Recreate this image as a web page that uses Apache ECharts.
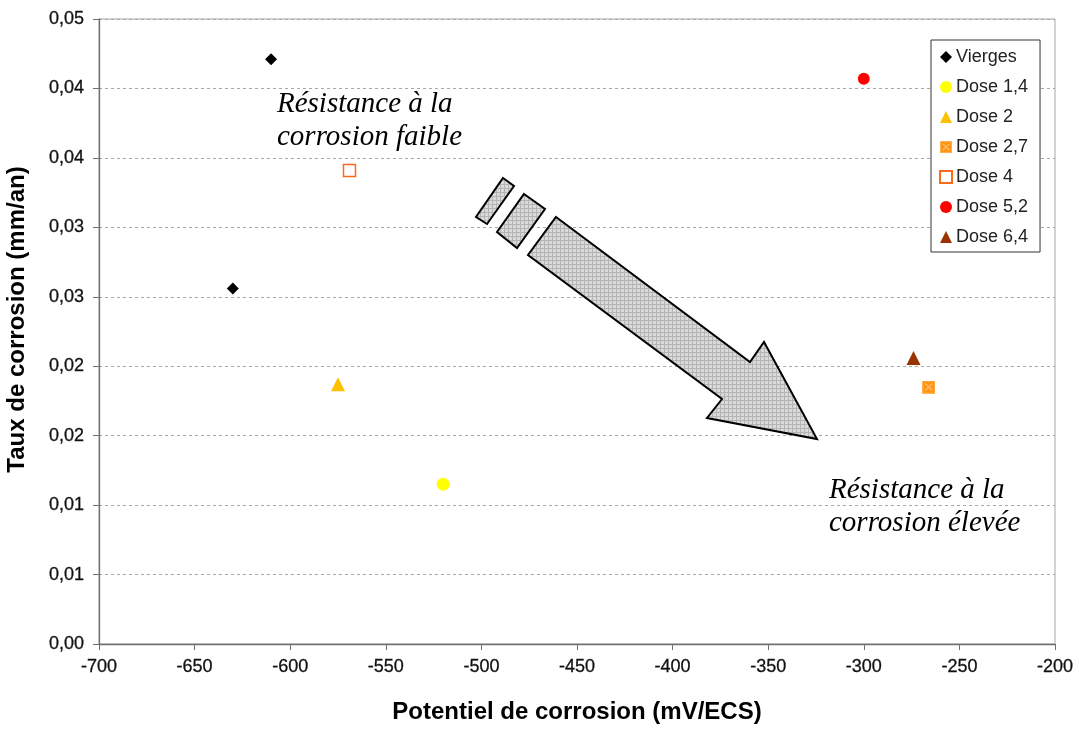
<!DOCTYPE html>
<html>
<head>
<meta charset="utf-8">
<script src="https://cdn.jsdelivr.net/npm/echarts@6/dist/echarts.min.js"></script>
<style>
  html, body { margin: 0; padding: 0; background: #fff; }
  #chart { width: 1079px; height: 729px; }
</style>
</head>
<body>
<div id="chart"></div>
<script>
// values
const seriesNames = ['Vierges', 'Dose 1,4', 'Dose 2', 'Dose 2,7', 'Dose 4', 'Dose 5,2', 'Dose 6,4'];
const vierges = [[-610, 0.0421], [-630, 0.0256]];
const dose14 = [[-520, 0.0115]];
const dose2 = [[-575, 0.0187]];
const dose27 = [[-266, 0.0185]];
const dose4 = [[-569, 0.0341]];
const dose52 = [[-300, 0.0407]];
const dose64 = [[-274, 0.0206]];
const yTickLabels = ['0,00', '0,01', '0,01', '0,02', '0,02', '0,03', '0,03', '0,04', '0,04', '0,05'];

const FONT = '"Liberation Sans", Arial, sans-serif';

// crosshatch fill for the arrow
function hatchPattern() {
  const c = document.createElement('canvas');
  c.width = 4; c.height = 4;
  const g = c.getContext('2d');
  g.fillStyle = '#dadada';
  g.fillRect(0, 0, 4, 4);
  g.fillStyle = '#b4b4b4';
  g.fillRect(0, 0, 4, 1);
  g.fillRect(0, 0, 1, 4);
  return c;
}

// square with a cross, like the Excel marker
function crossSquare() {
  const c = document.createElement('canvas');
  c.width = 13; c.height = 13;
  const g = c.getContext('2d');
  g.fillStyle = '#ff9410';
  g.fillRect(0, 0, 13, 13);
  g.strokeStyle = '#ffb050';
  g.lineWidth = 1;
  g.strokeRect(0.5, 0.5, 12, 12);
  g.strokeStyle = '#ffe2bc';
  g.beginPath();
  g.moveTo(3, 3); g.lineTo(10, 10);
  g.moveTo(10, 3); g.lineTo(3, 10);
  g.stroke();
  return 'image://' + c.toDataURL();
}

const hatch = { image: hatchPattern(), repeat: 'repeat' };

function scatter(name, data, symbol, size, itemStyle) {
  return {
    name: name, type: 'scatter', data: data, symbol: symbol, symbolSize: size,
    itemStyle: Object.assign({ opacity: 1 }, itemStyle)
  };
}

function annotation(x, y, lines) {
  return lines.map((t, i) => ({
    type: 'text',
    left: x,
    top: y + i * 33,
    z: 10,
    style: { text: t, font: 'italic 29px "Liberation Serif", "Times New Roman", serif', fill: '#000' }
  }));
}

const labelStyle = {
  fontFamily: FONT, fontSize: 18, color: '#111',
  textBorderColor: '#111', textBorderWidth: 0.3
};

const chart = echarts.init(document.getElementById('chart'));

const option = {
  animation: false,
  grid: {
    left: 99, right: 24, top: 19, bottom: 85,
    outerBoundsMode: 'none', containLabel: false,
    show: true, borderColor: '#a6a6a6', borderWidth: 1, backgroundColor: '#fff'
  },
  legend: {
    orient: 'vertical',
    left: 931, top: 40,
    padding: [8, 12, 6, 8],
    itemWidth: 12, itemHeight: 12, itemGap: 12,
    borderColor: '#333', borderWidth: 1, backgroundColor: '#fff',
    textStyle: { fontFamily: FONT, fontSize: 18, lineHeight: 18, color: '#222', padding: [0, 0, 0, -1] },
    data: seriesNames
  },
  xAxis: {
    type: 'value', min: -700, max: -200, interval: 50,
    name: 'Potentiel de corrosion (mV/ECS)',
    nameLocation: 'middle', nameGap: 56,
    nameTextStyle: { fontFamily: FONT, fontSize: 24, fontWeight: 'bold', color: '#000' },
    axisLine: { lineStyle: { color: '#6f6f6f', width: 1.3 } },
    axisTick: { length: 6, lineStyle: { color: '#6f6f6f' } },
    axisLabel: Object.assign({ margin: 14 }, labelStyle),
    splitLine: { show: false }
  },
  yAxis: {
    type: 'value', min: 0, max: 0.045, interval: 0.005,
    name: 'Taux de corrosion (mm/an)',
    nameLocation: 'middle', nameGap: 70,
    nameTextStyle: { fontFamily: FONT, fontSize: 24, fontWeight: 'bold', color: '#000', padding: [0, 0, 0, 24] },
    axisLine: { show: true, lineStyle: { color: '#6f6f6f', width: 1.3 } },
    axisTick: { show: true, length: 6, lineStyle: { color: '#6f6f6f' } },
    axisLabel: Object.assign({
      margin: 15,
      formatter: v => yTickLabels[Math.round(v / 0.005)]
    }, labelStyle),
    splitLine: { lineStyle: { color: '#a8a8a8', type: [3, 3], width: 1 } }
  },
  series: [
    scatter('Vierges', vierges, 'diamond', 12, { color: '#000' }),
    scatter('Dose 1,4', dose14, 'circle', 13, { color: '#ffff00' }),
    scatter('Dose 2', dose2, 'triangle', 14, { color: '#ffc000' }),
    scatter('Dose 2,7', dose27, crossSquare(), 13, { color: '#ff9410' }),
    scatter('Dose 4', dose4, 'rect', 12, { color: '#fff', borderColor: '#ff6a1a', borderWidth: 1.5 }),
    scatter('Dose 5,2', dose52, 'circle', 12, { color: '#ff0000' }),
    scatter('Dose 6,4', dose64, 'triangle', 14, { color: '#993300' })
  ],
  graphic: [
    {
      type: 'polygon', z: 5,
      shape: { points: [[556, 217], [750, 362], [764, 342], [817, 439], [707, 418], [722, 399], [528, 255]] },
      style: { fill: hatch, stroke: '#000', lineWidth: 2 }
    },
    {
      type: 'polygon', z: 5,
      shape: { points: [[524, 194], [545, 209], [517, 248], [497, 232]] },
      style: { fill: hatch, stroke: '#000', lineWidth: 2 }
    },
    {
      type: 'polygon', z: 5,
      shape: { points: [[503, 178], [514, 186], [487, 224], [476, 217]] },
      style: { fill: hatch, stroke: '#000', lineWidth: 2 }
    }
  ].concat(
    annotation(277, 90, ['Résistance à la', 'corrosion faible']),
    annotation(829, 476, ['Résistance à la', 'corrosion élevée'])
  )
};

chart.setOption(option);
</script>
</body>
</html>
